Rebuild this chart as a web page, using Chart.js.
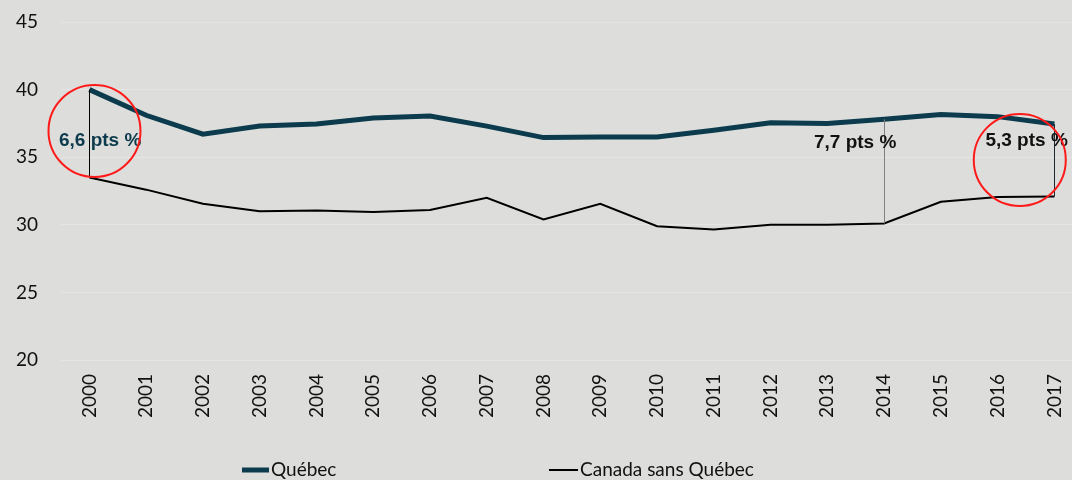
<!DOCTYPE html>
<html>
<head>
<meta charset="utf-8">
<script src="https://cdn.jsdelivr.net/npm/chart.js@4.4.1/dist/chart.umd.min.js"></script>
<style>
  html, body { margin: 0; padding: 0; background: #dddddb; }
  #wrap { width: 1072px; height: 480px; position: relative; }
</style>
</head>
<body>
<div id="wrap"><canvas id="c" width="1072" height="480"></canvas></div>
<script>
// ---- Data ----
const years = [2000, 2001, 2002, 2003, 2004, 2005, 2006, 2007, 2008, 2009, 2010, 2011, 2012, 2013, 2014, 2015, 2016, 2017];
const quebec = [40.0, 38.1, 36.7, 37.3, 37.45, 37.9, 38.05, 37.3, 36.45, 36.5, 36.5, 37.0, 37.55, 37.5, 37.8, 38.15, 38.0, 37.45];
const canadaSansQuebec = [33.5, 32.6, 31.55, 31.0, 31.05, 30.95, 31.1, 32.0, 30.4, 31.55, 29.9, 29.65, 30.0, 30.0, 30.1, 31.7, 32.05, 32.1];
const yTicks = [20, 25, 30, 35, 40, 45];
const seriesNames = ['Québec', 'Canada sans Québec'];
// gap annotations: year, label text
const gapYears = [2000, 2014, 2017];
const gapLabels = ['6,6 pts %', '7,7 pts %', '5,3 pts %'];

const TEAL = '#0b3b4c';

const annotationPlugin = {
  id: 'gaps',
  afterDatasetsDraw(chart) {
    const { ctx, scales: { x, y } } = chart;
    ctx.save();
    const lineColors = ['#000000', '#808080', '#1a2a30'];
    gapYears.forEach((yr, k) => {
      const i = years.indexOf(yr);
      const px = Math.round(x.getPixelForValue(yr)) + 0.5;
      ctx.strokeStyle = lineColors[k];
      ctx.lineWidth = 1;
      ctx.beginPath();
      ctx.moveTo(px, y.getPixelForValue(quebec[i]));
      ctx.lineTo(px, y.getPixelForValue(canadaSansQuebec[i]));
      ctx.stroke();
    });
    const labelPos = [[2000.19, 36.2, TEAL], [2013.49, 36.05, '#111111'], [2016.51, 36.2, '#111111']];
    ctx.font = 'bold 19px "Liberation Sans", Arial, sans-serif';
    ctx.textAlign = 'center';
    ctx.textBaseline = 'middle';
    gapLabels.forEach((t, k) => {
      const [lx, ly, col] = labelPos[k];
      ctx.fillStyle = col;
      ctx.fillText(t, x.getPixelForValue(lx), y.getPixelForValue(ly));
    });
    const circles = [[2000.09, 36.94], [2016.39, 34.8]];
    ctx.strokeStyle = '#ff1a1a';
    ctx.lineWidth = 2;
    circles.forEach(([cx, cy]) => {
      ctx.beginPath();
      ctx.arc(x.getPixelForValue(cx), y.getPixelForValue(cy), 46, 0, Math.PI * 2);
      ctx.stroke();
    });
    ctx.restore();
  },
  afterDraw(chart) {
    const { ctx } = chart;
    const items = [
      { x: 242, len: 27, ds: chart.data.datasets[0] },
      { x: 549, len: 29, ds: chart.data.datasets[1] }
    ];
    ctx.save();
    ctx.font = '19px Lato, "Open Sans", sans-serif';
    ctx.textBaseline = 'middle';
    ctx.textAlign = 'left';
    const ly = 470;
    items.forEach(it => {
      ctx.strokeStyle = it.ds.borderColor;
      ctx.lineWidth = it.ds.borderWidth;
      ctx.beginPath();
      ctx.moveTo(it.x, ly);
      ctx.lineTo(it.x + it.len, ly);
      ctx.stroke();
      ctx.fillStyle = '#111111';
      ctx.fillText(it.ds.label, it.x + it.len + 2, ly);
    });
    ctx.restore();
  }
};

const bgPlugin = {
  id: 'bg',
  beforeDraw(chart) {
    const { ctx, width, height } = chart;
    ctx.save();
    ctx.fillStyle = '#dddddb';
    ctx.fillRect(0, 0, width, height);
    ctx.restore();
  }
};

new Chart(document.getElementById('c'), {
  type: 'line',
  data: {
    labels: years,
    datasets: [
      { label: seriesNames[0], data: quebec, borderColor: TEAL, backgroundColor: TEAL, borderWidth: 5, pointRadius: 0, tension: 0 },
      { label: seriesNames[1], data: canadaSansQuebec, borderColor: '#000000', backgroundColor: '#000000', borderWidth: 2, pointRadius: 0, tension: 0 }
    ]
  },
  options: {
    responsive: false,
    animation: false,
    devicePixelRatio: 1,
    layout: { padding: { top: 22, right: 0, bottom: 0, left: 0 } },
    plugins: { legend: { display: false }, tooltip: { enabled: false } },
    scales: {
      x: {
        type: 'linear',
        min: 1999.5,
        max: 2017.31,
        afterBuildTicks: axis => { axis.ticks = years.map(v => ({ value: v })); },
        afterFit: axis => { axis.height = 120; axis.paddingLeft = 0; axis.paddingRight = 0; },
        grid: { display: false, drawTicks: false },
        border: { display: false },
        ticks: {
          autoSkip: false,
          minRotation: 90,
          maxRotation: 90,
          padding: 14,
          color: '#111111',
          font: { family: 'Lato, "Open Sans", sans-serif', size: 19 },
          callback: v => String(v)
        }
      },
      y: {
        min: 20,
        max: 45,
        afterBuildTicks: axis => { axis.ticks = yTicks.map(v => ({ value: v })); },
        afterFit: axis => { axis.width = 61; axis.paddingTop = 0; axis.paddingBottom = 0; },
        grid: { color: '#e5e5e3', lineWidth: 1, drawTicks: false },
        border: { display: false },
        ticks: {
          padding: 23,
          color: '#111111',
          font: { family: 'Lato, "Open Sans", sans-serif', size: 19 }
        }
      }
    }
  },
  plugins: [bgPlugin, annotationPlugin]
});
</script>
</body>
</html>
